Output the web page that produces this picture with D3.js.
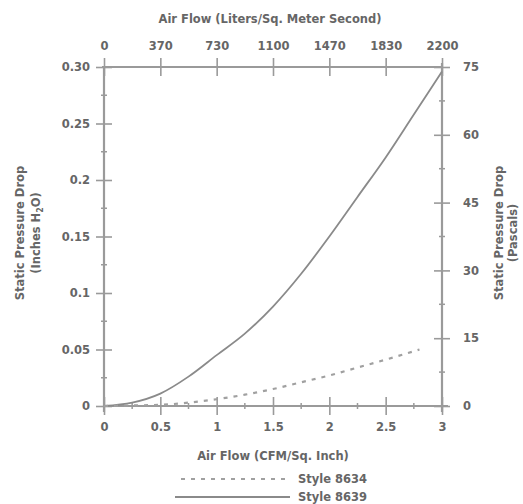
<!DOCTYPE html>
<html><head><meta charset="utf-8">
<script src="https://cdn.jsdelivr.net/npm/d3@7"></script>
<style>body{margin:0;background:#fff}text{font-family:"DejaVu Sans",Verdana,sans-serif;font-weight:bold;fill:#666}</style>
</head><body><svg id="c" width="523" height="504"></svg>
<script>
const xTicks = [0, 0.5, 1, 1.5, 2, 2.5, 3];
const xTickLabels = ["0", "0.5", "1", "1.5", "2", "2.5", "3"];
const topTickLabels = ["0", "370", "730", "1100", "1470", "1830", "2200"];
const yTicks = [0, 0.05, 0.1, 0.15, 0.2, 0.25, 0.30];
const yTickLabels = ["0", "0.05", "0.1", "0.15", "0.2", "0.25", "0.30"];
const rightTicks = [0, 15, 30, 45, 60, 75];
const seriesNames = ["Style 8634", "Style 8639"];
const airflow8639 = [0, 0.25, 0.5, 0.75, 1.0, 1.25, 1.5, 1.75, 2.0, 2.25, 2.5, 2.75, 3.0];
const drop8639 = [0, 0.003, 0.011, 0.026, 0.045, 0.064, 0.088, 0.117, 0.15, 0.185, 0.22, 0.258, 0.296];
const airflow8634 = [0, 0.25, 0.5, 0.75, 1.0, 1.25, 1.5, 1.75, 2.0, 2.25, 2.5, 2.8];
const drop8634 = [0, 0.0005, 0.001, 0.003, 0.006, 0.01, 0.015, 0.021, 0.027, 0.034, 0.041, 0.05];

const svg = d3.select("#c");
const L = 104, R = 442, T = 67, B = 406;
const FS = 11.5;
const x = d3.scaleLinear().domain([0, 3]).range([L, R]);
const y = d3.scaleLinear().domain([0, 0.3]).range([B, T]);
const yR = d3.scaleLinear().domain([0, 75]).range([B, T]);
const axisCol = "#9a9a9a";

function styleAxis(g){
  g.select(".domain").attr("stroke", axisCol).attr("stroke-width", 2.2);
  g.selectAll(".tick line").attr("stroke", axisCol).attr("stroke-width", 1.6);
  g.selectAll("text").attr("font-size", FS).attr("fill", "#666").attr("font-family", null);
}
// minor ticks
const gMinor = svg.append("g");
d3.range(0.25, 3, 0.5).forEach(v => {
  gMinor.append("line").attr("x1", x(v)).attr("x2", x(v)).attr("y1", B-3).attr("y2", B+3).attr("stroke", axisCol).attr("stroke-width", 1.5);
});
d3.range(0.025, 0.3, 0.05).forEach(v => {
  gMinor.append("line").attr("x1", L-3).attr("x2", L+3).attr("y1", y(v)).attr("y2", y(v)).attr("stroke", axisCol).attr("stroke-width", 1.5);
});
d3.range(7.5, 75, 15).forEach(v => {
  gMinor.append("line").attr("x1", R-3).attr("x2", R+3).attr("y1", yR(v)).attr("y2", yR(v)).attr("stroke", axisCol).attr("stroke-width", 1.5);
});

// bottom axis
const gb = svg.append("g").attr("transform", `translate(0,${B})`)
  .call(d3.axisBottom(x).tickValues(xTicks).tickFormat((d,i)=>xTickLabels[i]).tickSize(9).tickSizeOuter(0).tickPadding(8));
gb.selectAll(".tick line").attr("y1", -9);
styleAxis(gb);
gb.select(".domain").attr("d", `M${L},0H${R+6}`);

// top axis
const gt = svg.append("g").attr("transform", `translate(0,${T})`)
  .call(d3.axisTop(x).tickValues(xTicks).tickFormat((d,i)=>topTickLabels[i]).tickSize(9).tickSizeOuter(0).tickPadding(8));
gt.selectAll(".tick line").attr("y1", 9);
styleAxis(gt);
gt.select(".domain").attr("d", `M${L-2},0H${R}`);

// left axis
const gl = svg.append("g").attr("transform", `translate(${L},0)`)
  .call(d3.axisLeft(y).tickValues(yTicks).tickFormat((d,i)=>yTickLabels[i]).tickSize(8).tickSizeOuter(0).tickPadding(6));
gl.selectAll(".tick line").attr("x1", 8);
styleAxis(gl);
gl.select(".domain").attr("d", `M0,${B+6}V${T}`);

// right axis
const gr = svg.append("g").attr("transform", `translate(${R},0)`)
  .call(d3.axisRight(yR).tickValues(rightTicks).tickSize(8).tickSizeOuter(0).tickPadding(13));
gr.selectAll(".tick line").attr("x1", -8);
styleAxis(gr);
gr.select(".domain").attr("d", `M0,${B+6}V${T-4}`);

// axis titles
svg.append("text").attr("x", 270).attr("y", 23).attr("text-anchor", "middle").attr("font-size", FS).text("Air Flow (Liters/Sq. Meter Second)");
svg.append("text").attr("x", 273).attr("y", 460).attr("text-anchor", "middle").attr("font-size", FS).text("Air Flow (CFM/Sq. Inch)");
const lt = svg.append("text").attr("transform", "translate(24,233) rotate(-90)").attr("text-anchor", "middle").attr("font-size", FS);
lt.append("tspan").attr("x", 0).attr("dy", 0).text("Static Pressure Drop");
lt.append("tspan").attr("x", 0).attr("dy", 16).text("(Inches H");
lt.append("tspan").attr("font-size", 8).attr("dy", 3).text("2");
lt.append("tspan").attr("dy", -3).text("O)");
const rt = svg.append("text").attr("transform", "translate(503,233) rotate(-90)").attr("text-anchor", "middle").attr("font-size", FS);
rt.append("tspan").attr("x", 0).attr("dy", 0).text("Static Pressure Drop");
rt.append("tspan").attr("x", 0).attr("dy", 14).text("(Pascals)");

// lines
const line = d3.line().x(d => x(d[0])).y(d => y(d[1])).curve(d3.curveMonotoneX);
svg.append("path").datum(airflow8639.map((v,i)=>[v, drop8639[i]]))
  .attr("d", line).attr("fill", "none").attr("stroke", "#8a8a8a").attr("stroke-width", 1.8);
svg.append("path").datum(airflow8634.map((v,i)=>[v, drop8634[i]]))
  .attr("d", line).attr("fill", "none").attr("stroke", "#a0a0a0").attr("stroke-width", 2.2).attr("stroke-dasharray", "4,6");

// legend
const lg = svg.append("g");
lg.append("line").attr("x1", 181).attr("x2", 290).attr("y1", 479).attr("y2", 479).attr("stroke", "#a0a0a0").attr("stroke-width", 2.2).attr("stroke-dasharray", "4,6");
lg.append("line").attr("x1", 175).attr("x2", 290).attr("y1", 497).attr("y2", 497).attr("stroke", "#8a8a8a").attr("stroke-width", 2.2);
lg.append("text").attr("x", 298).attr("y", 483).attr("font-size", FS).text(seriesNames[0]);
lg.append("text").attr("x", 298).attr("y", 501).attr("font-size", FS).text(seriesNames[1]);
</script></body></html>
